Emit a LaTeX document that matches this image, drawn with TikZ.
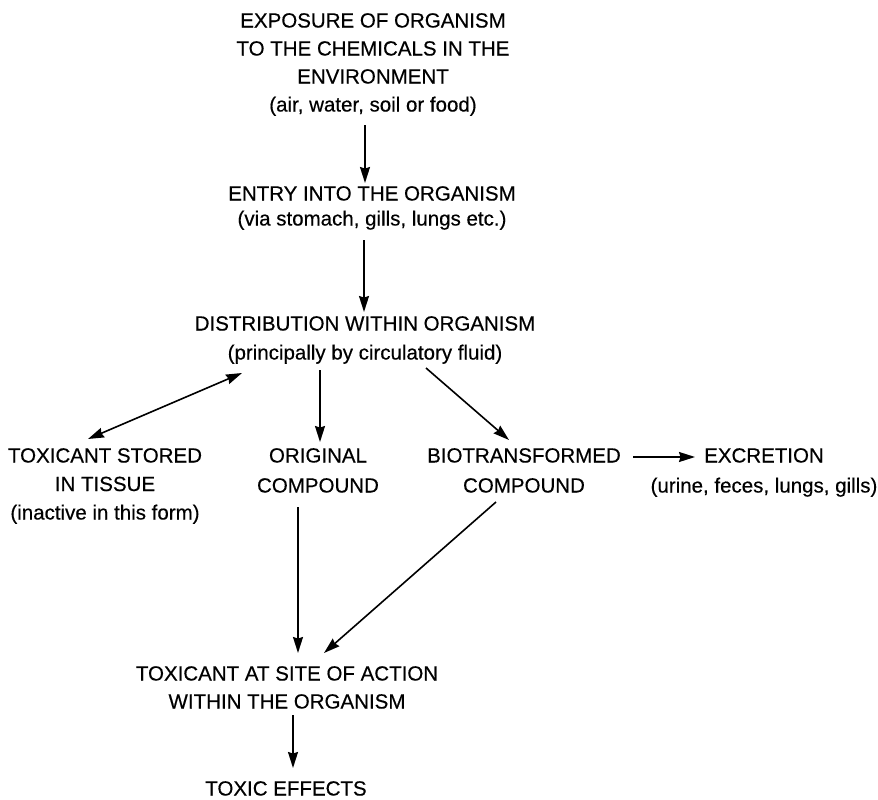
\documentclass[tikz,border=0pt]{standalone}
\usepackage{fontspec}
\setmainfont{Liberation Sans}[FakeBold=0.4]
\usetikzlibrary{arrows.meta,calc}
\begin{document}
\begin{tikzpicture}[x=1pt,y=-1pt,
  lbl/.style={anchor=north,align=center,inner sep=0pt,font=\fontsize{20.5}{28}\selectfont},
  arr/.style={line width=1.6pt,-{Stealth[length=16pt,width=10pt,inset=1.5pt]}},
  darr/.style={line width=1.6pt,{Stealth[length=16pt,width=10pt,inset=1.5pt]}-{Stealth[length=16pt,width=10pt,inset=1.5pt]}}]
\useasboundingbox (0,0) rectangle (878,800);
\node[lbl] (expo) at (373,13) {EXPOSURE OF ORGANISM\\TO THE CHEMICALS IN THE\\ENVIRONMENT\\(air, water, soil or food)};
\node[lbl,font=\fontsize{20.5}{25}\selectfont] (entry) at (372,186) {ENTRY INTO THE ORGANISM\\(via stomach, gills, lungs etc.)};
\node[lbl,font=\fontsize{20.5}{29}\selectfont] (dist) at (365,316) {DISTRIBUTION WITHIN ORGANISM\\(principally by circulatory fluid)};
\node[lbl,font=\fontsize{20.5}{28.5}\selectfont] (stored) at (105,448) {TOXICANT STORED\\IN TISSUE\\(inactive in this form)};
\node[lbl,font=\fontsize{20.5}{30}\selectfont] (orig) at (318,448) {ORIGINAL\\COMPOUND};
\node[lbl,font=\fontsize{20.5}{30}\selectfont] (bio) at (524,448) {BIOTRANSFORMED\\COMPOUND};
\node[lbl,font=\fontsize{20.5}{30}\selectfont] (excr) at (764,448) {EXCRETION\\(urine, feces, lungs, gills)};
\node[lbl] (site) at (287,666) {TOXICANT AT SITE OF ACTION\\WITHIN THE ORGANISM};
\node[lbl] (effects) at (286,781) {TOXIC EFFECTS};
\draw[arr] ($(expo.north)+(-8,112)$) -- ($(entry.north)+(-7,-3)$);
\draw[arr] ($(entry.north)+(-8,54)$) -- ($(dist.north)+(-1,-4)$);
\draw[darr] ($(dist.north)+(-123,57)$) -- ($(stored.north)+(-17,-9)$);
\draw[arr] ($(dist.north)+(-45,54)$) -- ($(orig.north)+(2,-6)$);
\draw[arr] ($(dist.north)+(61,52)$) -- ($(bio.north)+(-15,-8)$);
\draw[arr] ($(bio.north)+(109,9)$) -- ($(excr.north)+(-69,9)$);
\draw[arr] ($(orig.north)+(-20,59)$) -- ($(site.north)+(11,-13)$);
\draw[arr] ($(bio.north)+(-28,54)$) -- ($(site.north)+(37,-13)$);
\draw[arr] ($(site.north)+(6,49)$) -- ($(effects.north)+(7,-13)$);
\end{tikzpicture}
\end{document}
